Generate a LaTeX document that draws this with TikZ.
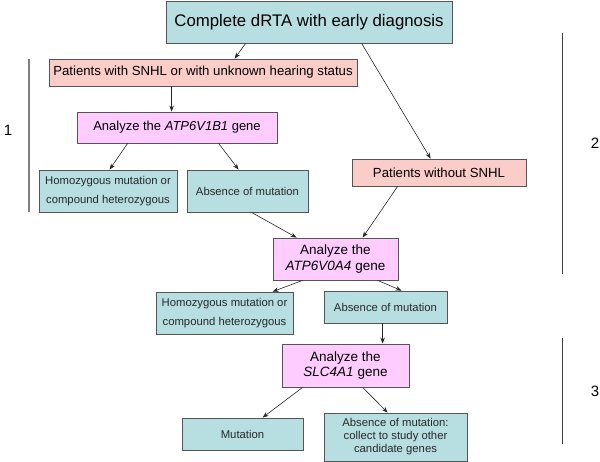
\documentclass[tikz,border=0pt]{standalone}
\usepackage{fontspec}
\setmainfont{Liberation Sans}
\usetikzlibrary{arrows.meta}
\definecolor{tealfill}{RGB}{183,222,225}
\definecolor{pinkfill}{RGB}{250,205,200}
\definecolor{magfill}{RGB}{255,204,255}
\definecolor{boxline}{RGB}{85,85,85}
\definecolor{smalltext}{RGB}{40,40,40}
\tikzset{
  box/.style={draw=boxline, line width=0.8pt, inner sep=0pt, align=center, anchor=center},
  tealbox/.style={box, fill=tealfill},
  pinkbox/.style={box, fill=pinkfill, font=\fontsize{13.2}{15}\selectfont},
  magbox/.style={box, fill=magfill, font=\fontsize{13.5}{15.5}\selectfont},
  smallbox/.style={tealbox, text=smalltext, font=\fontsize{11.3}{18.5}\selectfont},
  arr/.style={draw=black!85, line width=0.6pt, -{Stealth[length=6pt,width=4.5pt]}},
  bracket/.style={line width=0.9pt},
  numlabel/.style={font=\fontsize{15}{18}\selectfont, inner sep=0pt}
}
\begin{document}
\begin{tikzpicture}[x=1pt,y=-1pt]
\useasboundingbox (0,0) rectangle (600,462);
% boxes
\node[tealbox, minimum width=286pt, minimum height=42pt, font=\fontsize{16.8}{18}\selectfont] (top) at (309,22) {Complete dRTA with early diagnosis};
\node[pinkbox, minimum width=308pt, minimum height=27pt] (pat1) at (203,72.5) {Patients with SNHL or with unknown hearing status};
\node[magbox, minimum width=200pt, minimum height=31pt, font=\fontsize{13}{15}\selectfont] (ana1) at (177,127.5) {Analyze the \textit{ATP6V1B1} gene};
\node[smallbox, minimum width=138pt, minimum height=42pt] (hom1) at (108,191) {Homozygous mutation or\\compound heterozygous};
\node[smallbox, minimum width=121pt, minimum height=42pt] (abs1) at (247.5,191) {Absence of mutation};
\node[pinkbox, minimum width=174pt, minimum height=27pt] (pat2) at (439,172.5) {Patients without SNHL};
\node[magbox, minimum width=125pt, minimum height=42pt] (ana2) at (335.5,259) {Analyze the\\\textit{ATP6V0A4} gene};
\node[smallbox, minimum width=137pt, minimum height=42pt] (hom2) at (224.5,313) {Homozygous mutation or\\compound heterozygous};
\node[smallbox, minimum width=123pt, minimum height=32pt] (abs2) at (385.5,307) {Absence of mutation};
\node[magbox, minimum width=127pt, minimum height=43pt] (ana3) at (345.5,365.5) {Analyze the\\\textit{SLC4A1} gene};
\node[smallbox, minimum width=121pt, minimum height=32pt] (mut) at (242.5,434) {Mutation};
\node[smallbox, minimum width=143pt, minimum height=48pt, font=\fontsize{11.3}{13}\selectfont] (abs3) at (395.5,437) {Absence of mutation:\\collect to study other\\candidate genes};
% arrows
\draw[arr] ([xshift=80pt]top.south west) -- ([xshift=186pt]pat1.north west);
\draw[arr] ([xshift=196pt]top.south west) -- ([xshift=79pt]pat2.north west);
\draw[arr] ([xshift=123pt]pat1.south west) -- ([xshift=95pt]ana1.north west);
\draw[arr] ([xshift=51pt]ana1.south west) -- ([xshift=71pt]hom1.north west);
\draw[arr] ([xshift=142pt]ana1.south west) -- ([xshift=52pt]abs1.north west);
\draw[arr] ([xshift=65pt]abs1.south west) -- ([xshift=24pt]ana2.north west);
\draw[arr] ([xshift=46pt]pat2.south west) -- ([xshift=90pt]ana2.north west);
\draw[arr] ([xshift=30pt]ana2.south west) -- ([xshift=117pt]hom2.north west);
\draw[arr] ([xshift=105pt]ana2.south west) -- ([xshift=78pt]abs2.north west);
\draw[arr] ([xshift=59pt]abs2.south west) -- ([xshift=101pt]ana3.north west);
\draw[arr] ([xshift=21pt]ana3.south west) -- ([xshift=81pt]mut.north west);
\draw[arr] ([xshift=81pt]ana3.south west) -- ([xshift=64pt]abs3.north west);
% brackets and labels
\coordinate (b1a) at (29,59); \coordinate (b1b) at (29,212);
\coordinate (b2a) at (562,33); \coordinate (b2b) at (562,274);
\coordinate (b3a) at (562,338); \coordinate (b3b) at (562,444);
\draw[bracket, draw=black!50, line width=1.4pt] (b1a) -- (b1b);
\draw[bracket, draw=black!75] (b2a) -- (b2b);
\draw[bracket, draw=black!75] (b3a) -- (b3b);
\node[numlabel] (n1) at (8,130) {1};
\node[numlabel] (n2) at (595,143) {2};
\node[numlabel] (n3) at (595,391) {3};
\end{tikzpicture}
\end{document}
